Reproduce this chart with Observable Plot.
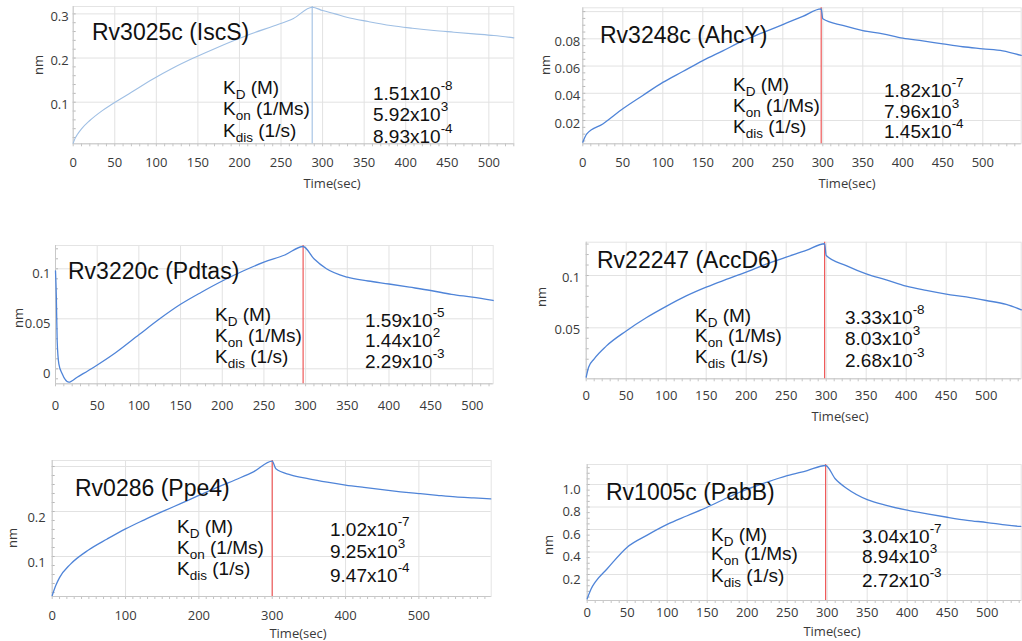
<!DOCTYPE html>
<html><head><meta charset="utf-8">
<script src="https://cdn.jsdelivr.net/npm/d3@7"></script>
<script src="https://cdn.jsdelivr.net/npm/@observablehq/plot@0.6"></script>
<style>
body{margin:0;background:#fff;}
#fig{position:relative;width:1022px;height:641px;overflow:hidden;}
.panel{position:absolute;}
</style></head><body><div id="fig"></div>
<script>
// ---------------- data ----------------
const titles = ["Rv3025c (IscS)", "Rv3248c (AhcY)", "Rv3220c (Pdtas)", "Rv22247 (AccD6)", "Rv0286 (Ppe4)", "Rv1005c (PabB)"];
const kdMant = ["1.51", "1.82", "1.59", "3.33", "1.02", "3.04"];
const kdExp = ["-8", "-7", "-5", "-8", "-7", "-7"];
const konMant = ["5.92", "7.96", "1.44", "8.03", "9.25", "8.94"];
const konExp = ["3", "3", "2", "3", "3", "3"];
const kdisMant = ["8.93", "1.45", "2.29", "2.68", "9.47", "2.72"];
const kdisExp = ["-4", "-4", "-3", "-3", "-4", "-3"];
const dissocStart = [287.5, 298, 297, 298, 300, 298];

const p1Time = [0, 2, 5, 10, 20, 35, 47, 70, 96, 120, 144, 168, 192, 216, 241, 265, 287.5, 300, 315, 329, 355, 382, 408, 434, 458, 482, 506, 530];
const p1Nm = [0.0072, 0.017, 0.0268, 0.0396, 0.0585, 0.081, 0.096, 0.1225, 0.1525, 0.1775, 0.1995, 0.2195, 0.2385, 0.2562, 0.2725, 0.2895, 0.3151, 0.3075, 0.3, 0.2925, 0.2826, 0.2736, 0.2675, 0.2623, 0.2585, 0.2547, 0.2509, 0.2457];

const p2Time = [0, 5, 25, 50, 75, 100, 125, 150, 175, 200, 225, 250, 275, 298, 300, 325, 350, 375, 400, 425, 450, 475, 500, 525, 548];
const p2Nm = [0.0041, 0.0102, 0.0175, 0.0286, 0.0384, 0.048, 0.056, 0.064, 0.0712, 0.0785, 0.0845, 0.0905, 0.0965, 0.102, 0.0947, 0.0898, 0.0861, 0.0837, 0.0805, 0.0785, 0.0763, 0.0742, 0.0727, 0.0712, 0.0678];

const p3Time = [0, 1, 2, 4, 8, 16, 26, 46, 72, 100, 125, 150, 175, 200, 225, 250, 275, 297, 310, 325, 350, 375, 400, 425, 450, 475, 500, 525];
const p3Nm = [0.098, 0.072, 0.028, 0.005, -0.005, -0.0134, -0.0084, 0.0016, 0.016, 0.034, 0.05, 0.0645, 0.0766, 0.0878, 0.0978, 0.1066, 0.1138, 0.1223, 0.11, 0.1, 0.0916, 0.0878, 0.0848, 0.0816, 0.0783, 0.0745, 0.0716, 0.0683];

const p4Time = [0, 3, 10, 25, 50, 75, 100, 125, 150, 175, 200, 225, 250, 275, 298, 300, 325, 350, 375, 400, 425, 450, 475, 500, 525, 544];
const p4Nm = [0.0029, 0.0124, 0.0204, 0.0325, 0.047, 0.0596, 0.0705, 0.0805, 0.0889, 0.0962, 0.1032, 0.1108, 0.1175, 0.1239, 0.1303, 0.1191, 0.1095, 0.1016, 0.0959, 0.0898, 0.0857, 0.0822, 0.0795, 0.0761, 0.0723, 0.0672];

const p5Time = [0, 5, 10, 25, 50, 75, 100, 125, 150, 175, 200, 225, 250, 275, 300, 305, 325, 350, 375, 400, 425, 450, 475, 500, 525, 550, 575, 598];
const p5Nm = [0.0133, 0.036, 0.053, 0.083, 0.115, 0.139, 0.1615, 0.181, 0.1995, 0.2175, 0.2356, 0.2535, 0.2705, 0.2885, 0.3119, 0.2948, 0.2815, 0.2726, 0.2652, 0.2588, 0.2535, 0.2485, 0.2438, 0.2398, 0.236, 0.2325, 0.2302, 0.2281];

const p6Time = [0, 5, 10, 25, 50, 75, 100, 125, 150, 175, 200, 225, 250, 275, 298, 310, 325, 350, 375, 400, 425, 450, 475, 500, 525, 542];
const p6Nm = [-0.016, 0.073, 0.132, 0.251, 0.443, 0.55, 0.645, 0.722, 0.798, 0.882, 0.958, 1.021, 1.078, 1.124, 1.169, 1.051, 0.962, 0.865, 0.813, 0.772, 0.739, 0.709, 0.682, 0.662, 0.638, 0.627];

const xTicks50 = [0, 50, 100, 150, 200, 250, 300, 350, 400, 450, 500];
const xTicks100 = [0, 100, 200, 300, 400, 500];
const p1YTicks = [0.1, 0.2, 0.3];
const p2YTicks = [0.02, 0.04, 0.06, 0.08];
const p3YTicks = [0, 0.05, 0.1];
const p4YTicks = [0.05, 0.1];
const p5YTicks = [0.1, 0.2];
const p6YTicks = [0.2, 0.4, 0.6, 0.8, 1.0];

const times = [p1Time, p2Time, p3Time, p4Time, p5Time, p6Time];
const values = [p1Nm, p2Nm, p3Nm, p4Nm, p5Nm, p6Nm];
const xTickSets = [xTicks50, xTicks50, xTicks50, xTicks50, xTicks100, xTicks50];
const yTickSets = [p1YTicks, p2YTicks, p3YTicks, p4YTicks, p5YTicks, p6YTicks];
const yGridSets = [[0.1, 0.2, 0.3], [0.02, 0.04, 0.06, 0.08, 0.1], [0, 0.05, 0.1], [0.05, 0.1], [0.1, 0.2, 0.3], [0.2, 0.4, 0.6, 0.8, 1.0]];

// ---------------- layout / style ----------------
const layout = [
  {ox: 0, oy: 0, w: 520, h: 200, fx: [72.7, 513.3], fy: [6, 143.3], xd: [0, 530], yd: [0.0058, 0.3167], yMinor: 0.02,
   xPad: 13.8, yPad: 4.5, yDy: 3, fmt: d => String(d), light: true,
   title: [92, 40], k: [223, 94, 115, 136.5], v: [373, 100, 121, 142.5], nm: [38, 65], time: [332, 183]},
  {ox: 520, oy: 0, w: 502, h: 200, fx: [582.3, 1020.7], fy: [7.3, 143.3], xd: [0, 548], yd: [0.0029, 0.1028], yMinor: 0.005,
   xPad: 13.8, yPad: 2.5, yDy: 3, fmt: d => String(d),
   title: [600, 42.5], k: [733, 90.7, 111.7, 132.7], v: [884, 96.7, 118, 138.3], nm: [545, 65], time: [847, 183]},
  {ox: 0, oy: 230, w: 520, h: 190, fx: [55, 492.7], fy: [245, 383.3], xd: [0, 525], yd: [-0.015, 0.1233], yMinor: 0.01,
   xPad: 17, yPad: 5, yDy: 5, fmt: d => String(d),
   title: [68, 279.3], k: [215, 320.7, 341.7, 362.7], v: [365, 326.7, 346.7, 367.7], nm: [18, 318], time: null},
  {ox: 520, oy: 230, w: 502, h: 190, fx: [585.7, 1020.7], fy: [241.7, 378.3], xd: [0, 543.75], yd: [0.0013, 0.1318], yMinor: 0.01,
   xPad: 12, yPad: 6, yDy: 2, fmt: d => String(d),
   title: [597, 268.3], k: [695, 321.7, 341.7, 362.7], v: [845, 324, 345, 366.7], nm: [541, 297], time: [840, 416]},
  {ox: 0, oy: 450, w: 520, h: 191, fx: [51.7, 490.7], fy: [460, 596], xd: [0, 598.6], yd: [0.0111, 0.3133], yMinor: 0.02,
   xPad: 14.4, yPad: 6.5, yDy: 6, fmt: d => String(d),
   title: [75, 496], k: [177, 533.3, 554, 575], v: [330, 536, 558.3, 581.7], nm: [12, 538], time: [298, 633]},
  {ox: 520, oy: 450, w: 502, h: 191, fx: [586.7, 1020.7], fy: [464, 600], xd: [0, 542.5], yd: [-0.0311, 1.1778], yMinor: 0.05,
   xPad: 7, yPad: 6.5, yDy: 5, fmt: d3.format(".1f"),
   title: [606, 500], k: [711, 540.7, 560, 581.7], v: [862, 543.3, 563.3, 586.7], nm: [548, 545], time: [832, 631.5]}
];

const tickFont = "'Open Sans', 'DejaVu Sans', sans-serif";
const textFont = "'Liberation Sans', Arial, sans-serif";
const fig = document.getElementById("fig");

layout.forEach((L, i) => {
  const ml = L.fx[0] - L.ox, mr = L.ox + L.w - L.fx[1];
  const mt = L.fy[0] - L.oy, mb = L.oy + L.h - L.fy[1];
  const data = times[i].map((t, k) => ({t, v: values[i][k]}));
  const lineColor = L.light ? "#9fbfe4" : "#4f84d8";
  const ruleColor = L.light ? "#a9c5e5" : "#ef5a5a";
  const xMinor = d3.range(0, L.xd[1] + 0.001, 10);
  const yMinor = d3.range(Math.ceil(L.yd[0] / L.yMinor) * L.yMinor, L.yd[1], L.yMinor);
  const svg = Plot.plot({
    width: L.w, height: L.h,
    marginLeft: ml, marginRight: mr, marginTop: mt, marginBottom: mb,
    style: {fontFamily: tickFont, fontSize: "13px", color: "#3a3a3a", background: "none", overflow: "visible"},
    x: {domain: L.xd, label: null},
    y: {domain: L.yd, label: null},
    marks: [
      Plot.gridX(xTickSets[i].filter(d => d > 0), {stroke: "#e2e2e2", strokeOpacity: 1}),
      Plot.gridY(yGridSets[i], {stroke: "#e2e2e2", strokeOpacity: 1}),
      Plot.frame({stroke: "#e4e4e4"}),
      Plot.axisY(yMinor, {tickSize: -3, text: null, label: null, stroke: "#b8b8b8"}),
      Plot.axisX(xMinor, {tickSize: 3, text: null, label: null, stroke: "#c4c4c4"}),
      Plot.ruleX([L.xd[0]], {stroke: "#c8c8c8"}),
      Plot.ruleY([L.yd[0]], {stroke: "#c8c8c8"}),
      Plot.axisY(yTickSets[i], {tickSize: 0, tickPadding: L.yPad, dy: L.yDy, tickFormat: L.fmt, label: null}),
      Plot.axisX(xTickSets[i], {tickSize: 0, tickPadding: L.xPad, label: null}),
      Plot.ruleX([dissocStart[i]], {stroke: ruleColor, strokeWidth: 1.2}),
      Plot.line(data, {x: "t", y: "v", stroke: lineColor, strokeWidth: L.light ? 1.1 : 1.3, curve: "monotone-x"})
    ]
  });
  const div = document.createElement("div");
  div.className = "panel";
  div.style.left = L.ox + "px";
  div.style.top = L.oy + "px";
  div.appendChild(svg);
  fig.appendChild(div);

  const g = d3.select(svg).append("g").attr("transform", `translate(${-L.ox},${-L.oy})`)
    .attr("text-anchor", "start").style("white-space", "pre");
  // title
  g.append("text").attr("x", L.title[0]).attr("y", L.title[1])
    .attr("font-family", textFont).attr("font-size", 23).attr("fill", "#111").text(titles[i]);
  // constant labels
  const kRows = [["D", "(M)"], ["on", "(1/Ms)"], ["dis", "(1/s)"]];
  kRows.forEach((r, j) => {
    const t = g.append("text").attr("x", L.k[0]).attr("y", L.k[j + 1])
      .attr("font-family", textFont).attr("font-size", 19).attr("fill", "#111");
    t.append("tspan").text("K");
    t.append("tspan").attr("dy", 5).attr("font-size", 13.5).text(r[0]);
    t.append("tspan").attr("dy", -5).text(" " + r[1]);
  });
  const vRows = [[kdMant[i], kdExp[i]], [konMant[i], konExp[i]], [kdisMant[i], kdisExp[i]]];
  vRows.forEach((r, j) => {
    const t = g.append("text").attr("x", L.v[0]).attr("y", L.v[j + 1])
      .attr("font-family", textFont).attr("font-size", 19).attr("fill", "#111");
    t.append("tspan").text(r[0] + "x10");
    t.append("tspan").attr("dy", -10).attr("font-size", 13.5).text(r[1]);
  });
  // axis titles
  g.append("text").attr("transform", `translate(${L.nm[0]},${L.nm[1]}) rotate(-90)`)
    .attr("text-anchor", "middle").attr("dy", "0.35em")
    .attr("font-family", tickFont).attr("font-size", 13).attr("fill", "#3a3a3a").text("nm");
  if (L.time) {
    g.append("text").attr("x", L.time[0]).attr("y", L.time[1]).attr("text-anchor", "middle").attr("dy", "0.35em")
      .attr("font-family", tickFont).attr("font-size", 13).attr("fill", "#3a3a3a").text("Time(sec)");
  }
});
</script>
</body></html>
